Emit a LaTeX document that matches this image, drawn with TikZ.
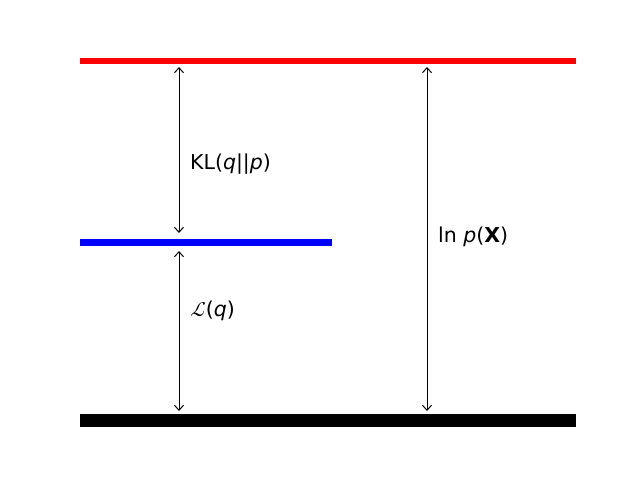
\documentclass[tikz,border=0pt]{standalone}
\usepackage{fontspec}
\setmainfont{DejaVu Sans}
\newfontfamily\myscrfont{Latin Modern Math}
\usetikzlibrary{arrows.meta}
\tikzset{
  bar/.style={line width=#1, line cap=butt},
  dblarrow/.style={line width=1pt, {Straight Barb[length=5pt,width=9pt]}-{Straight Barb[length=5pt,width=9pt]}},
  lbl/.style={anchor=west, inner sep=0pt, font=\fontsize{20.5}{24}\selectfont}
}
\begin{document}
\begin{tikzpicture}[x=1pt,y=-1pt]
\useasboundingbox (0,0) rectangle (640,480);
% bars
\coordinate (redL) at (80,61);
\coordinate (redR) at (576,61);
\coordinate (blueL) at (80,242.5);
\coordinate (blueR) at (332,242.5);
\coordinate (blackL) at (80,420);
\coordinate (blackR) at (576,420);
\draw[bar=6.5pt, red] (redL) -- (redR);
\draw[bar=7pt, blue] (blueL) -- (blueR);
\draw[bar=13pt, black] (blackL) -- (blackR);
% arrow end points
\coordinate (a1t) at (179,67);
\coordinate (a1b) at (179,233);
\coordinate (a2t) at (179,251);
\coordinate (a2b) at (179,411);
\coordinate (a3t) at (427,67);
\coordinate (a3b) at (427,411);
\draw[dblarrow] (a1t) -- (a1b);
\draw[dblarrow] (a2t) -- (a2b);
\draw[dblarrow] (a3t) -- (a3b);
% labels
\node[lbl] (kl) at (190,164) {KL(\textit{q}||\textit{p})};
\node[lbl] (elbo) at (190,311) {{\myscrfont ℒ}(\textit{q})};
\node[lbl] (lnp) at (438,237) {ln \textit{p}(\textbf{X})};
\end{tikzpicture}
\end{document}
